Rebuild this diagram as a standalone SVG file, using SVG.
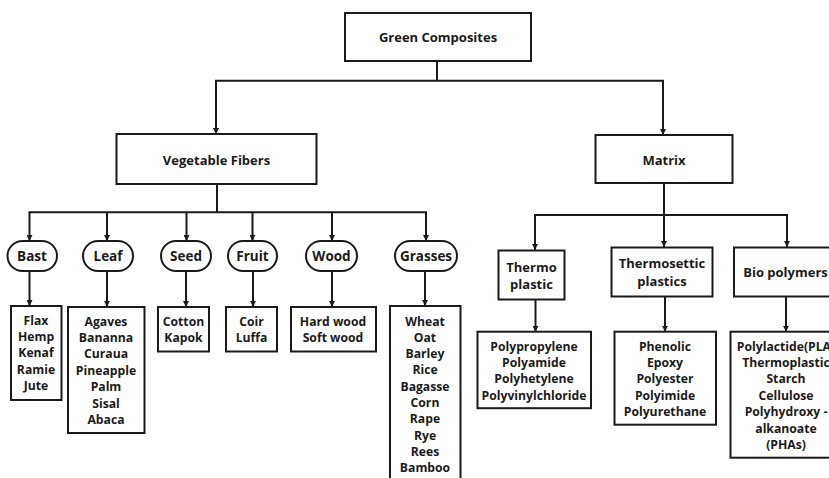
<svg xmlns="http://www.w3.org/2000/svg" width="829" height="478" viewBox="0 0 829 478">
<defs>
<marker id="ah" viewBox="0 0 10 10" refX="10" refY="5" markerWidth="6" markerHeight="6" markerUnits="userSpaceOnUse" orient="auto"><path d="M0,0 L10,5 L0,10 z" fill="#1a1a1a"/></marker>
</defs>
<style>
.box{fill:#fff;stroke:#1a1a1a;stroke-width:2}
.t{font-family:"Open Sans","Liberation Sans",sans-serif;font-weight:bold;font-size:12.2px;fill:#1a1a1a;text-anchor:middle}
.t2{font-family:"Open Sans","Liberation Sans",sans-serif;font-weight:bold;font-size:13px;fill:#1a1a1a;text-anchor:middle}
.t3{font-family:"Open Sans","Liberation Sans",sans-serif;font-weight:bold;font-size:13.5px;fill:#1a1a1a;text-anchor:middle}
.c{fill:none;stroke:#1a1a1a;stroke-width:2}
.a{fill:none;stroke:#1a1a1a;stroke-width:2;marker-end:url(#ah)}
</style>
<rect width="829" height="478" fill="#fff"/>
<g id="connectors">
<path class="c" d="M437,61 V80.7 M215,80.7 H664"/>
<path class="a" d="M216,80.7 V134"/>
<path class="a" d="M663,80.7 V135"/>
<path class="c" d="M217,184 V212.3 M28.5,212.3 H427"/>
<path class="a" d="M29.5,212.3 V241"/>
<path class="a" d="M107,212.3 V241"/>
<path class="a" d="M186.5,212.3 V241"/>
<path class="a" d="M252.5,212.3 V241"/>
<path class="a" d="M332,212.3 V241"/>
<path class="a" d="M426,212.3 V241"/>
<path class="a" d="M29.5,271 V306"/>
<path class="a" d="M107,271 V307"/>
<path class="a" d="M186,271 V307"/>
<path class="a" d="M253,271 V307"/>
<path class="a" d="M332,271 V307"/>
<path class="a" d="M425,271 V306"/>
<path class="c" d="M664,183 V215 M534,215 H788"/>
<path class="a" d="M535,215 V250"/>
<path class="a" d="M664,215 V247"/>
<path class="a" d="M787,215 V247"/>
<path class="a" d="M535.5,299.3 V331.7"/>
<path class="a" d="M665,296.7 V331.7"/>
<path class="a" d="M786,296.7 V331.7"/>
</g>
<g id="green-composites"><rect class="box" x="345" y="13" width="186" height="48"/><text class="t2" x="438" y="42">Green Composites</text></g>
<g id="vegetable-fibers"><rect class="box" x="116.5" y="134" width="200" height="50"/><text class="t2" x="216.5" y="164.5">Vegetable Fibers</text></g>
<g id="matrix"><rect class="box" x="595.5" y="135" width="137" height="48"/><text class="t2" x="664" y="164.5">Matrix</text></g>
<g id="bast"><rect class="box" x="7.5" y="241" width="49.5" height="30" rx="15"/><text class="t3" x="32" y="261">Bast</text></g>
<g id="leaf"><rect class="box" x="83" y="241" width="50" height="30" rx="15"/><text class="t3" x="108" y="261">Leaf</text></g>
<g id="seed"><rect class="box" x="161" y="241" width="50" height="30" rx="15"/><text class="t3" x="186" y="261">Seed</text></g>
<g id="fruit"><rect class="box" x="228" y="241" width="49" height="30" rx="15"/><text class="t3" x="252.5" y="261">Fruit</text></g>
<g id="wood"><rect class="box" x="306" y="241" width="51" height="30" rx="15"/><text class="t3" x="331.5" y="261">Wood</text></g>
<g id="grasses"><rect class="box" x="395" y="241" width="62" height="30" rx="15"/><text class="t3" x="426" y="261">Grasses</text></g>
<g id="bast-list"><rect class="box" x="11" y="306" width="50.5" height="94"/><text class="t" x="36" y="324.5"><tspan x="36">Flax</tspan><tspan x="36" dy="16.4">Hemp</tspan><tspan x="36" dy="16.4">Kenaf</tspan><tspan x="36" dy="16.4">Ramie</tspan><tspan x="36" dy="16.4">Jute</tspan></text></g>
<g id="leaf-list"><rect class="box" x="68" y="307" width="76.5" height="126"/><text class="t" x="106" y="325.5"><tspan x="106">Agaves</tspan><tspan x="106" dy="16.4">Bananna</tspan><tspan x="106" dy="16.4">Curaua</tspan><tspan x="106" dy="16.4">Pineapple</tspan><tspan x="106" dy="16.4">Palm</tspan><tspan x="106" dy="16.4">Sisal</tspan><tspan x="106" dy="16.4">Abaca</tspan></text></g>
<g id="seed-list"><rect class="box" x="158" y="307" width="51" height="44.5"/><text class="t" x="183.5" y="325.5"><tspan x="183.5">Cotton</tspan><tspan x="183.5" dy="16.4">Kapok</tspan></text></g>
<g id="fruit-list"><rect class="box" x="226" y="307" width="51" height="44.5"/><text class="t" x="251.5" y="325.5"><tspan x="251.5">Coir</tspan><tspan x="251.5" dy="16.4">Luffa</tspan></text></g>
<g id="wood-list"><rect class="box" x="291" y="307" width="85" height="44.5"/><text class="t" x="333" y="325.5"><tspan x="333">Hard wood</tspan><tspan x="333" dy="16.4">Soft wood</tspan></text></g>
<g id="grasses-list"><rect class="box" x="390" y="306" width="70.5" height="190"/><text class="t" x="425" y="325.5"><tspan x="425">Wheat</tspan><tspan x="425" dy="16.3">Oat</tspan><tspan x="425" dy="16.3">Barley</tspan><tspan x="425" dy="16.3">Rice</tspan><tspan x="425" dy="16.3">Bagasse</tspan><tspan x="425" dy="16.3">Corn</tspan><tspan x="425" dy="16.3">Rape</tspan><tspan x="425" dy="16.3">Rye</tspan><tspan x="425" dy="16.3">Rees</tspan><tspan x="425" dy="16.3">Bamboo</tspan></text></g>
<g id="thermoplastic"><rect class="box" x="498.5" y="250.5" width="66" height="49"/><text class="t2" x="531.5" y="271.5"><tspan x="531.5">Thermo</tspan><tspan x="531.5" dy="17.5">plastic</tspan></text></g>
<g id="thermosettic"><rect class="box" x="611.5" y="247.5" width="101" height="49"/><text class="t2" x="662" y="268"><tspan x="662">Thermosettic</tspan><tspan x="662" dy="18">plastics</tspan></text></g>
<g id="bio-polymers"><rect class="box" x="734" y="247.5" width="120" height="49"/><text class="t2" x="785.5" y="276.5">Bio polymers</text></g>
<g id="thermoplastic-list"><rect class="box" x="477.5" y="331.7" width="113.5" height="76.5"/><text class="t" x="534" y="350.5"><tspan x="534">Polypropylene</tspan><tspan x="534" dy="16.4">Polyamide</tspan><tspan x="534" dy="16.4">Polyhetylene</tspan><tspan x="534" dy="16.4">Polyvinylchloride</tspan></text></g>
<g id="thermosettic-list"><rect class="box" x="614.5" y="331.7" width="101.5" height="93"/><text class="t" x="665" y="350.5"><tspan x="665">Phenolic</tspan><tspan x="665" dy="16.4">Epoxy</tspan><tspan x="665" dy="16.4">Polyester</tspan><tspan x="665" dy="16.4">Polyimide</tspan><tspan x="665" dy="16.4">Polyurethane</tspan></text></g>
<g id="bio-list"><rect class="box" x="730.5" y="331.7" width="120" height="126"/><text class="t" x="786" y="350.5"><tspan x="786">Polylactide(PLA)</tspan><tspan x="786" dy="16.4">Thermoplastic</tspan><tspan x="786" dy="16.4">Starch</tspan><tspan x="786" dy="16.4">Cellulose</tspan><tspan x="786" dy="16.4">Polyhydroxy -</tspan><tspan x="786" dy="16.4">alkanoate</tspan><tspan x="786" dy="16.4">(PHAs)</tspan></text></g>
</svg>
